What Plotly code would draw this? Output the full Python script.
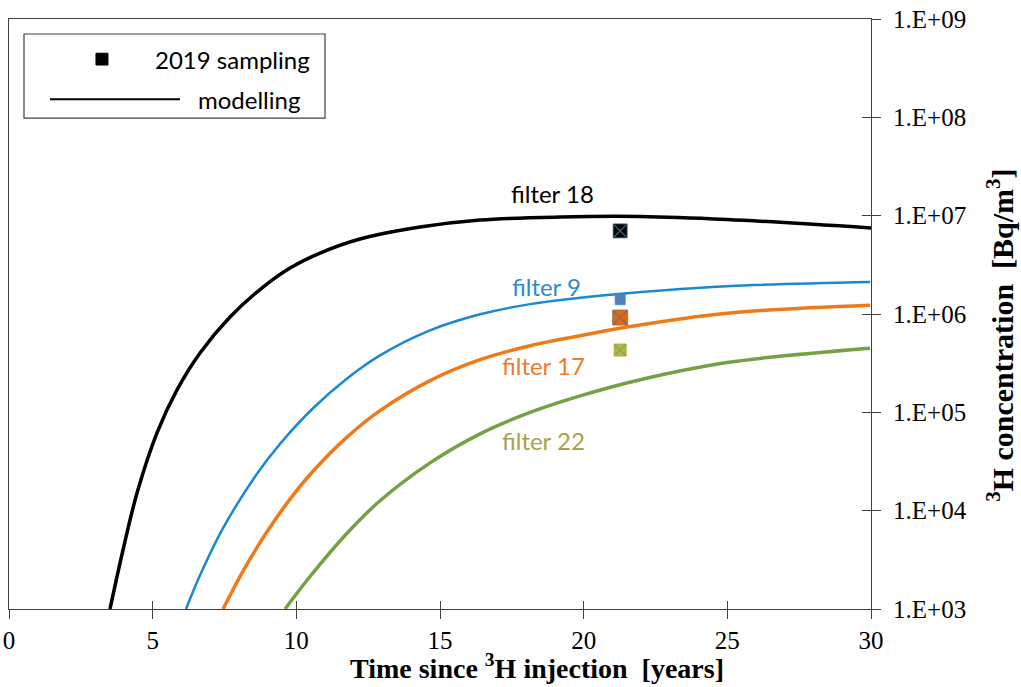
import plotly.graph_objects as go

# ---------------- data ----------------
t_f18 = [3.515, 3.968, 4.455, 5.151, 5.848, 6.648, 7.692, 8.841, 9.781, 10.825, 12.217, 14.306,
         16.394, 19.178, 21.963, 24.991, 30.0]
c_f18 = [1.0e3, 3.98e3, 1.51e4, 6.17e4, 1.69e5, 4.01e5, 9.31e5, 1.88e6, 2.94e6, 4.17e6, 5.79e6,
         7.67e6, 9.04e6, 9.69e6, 9.80e6, 9.14e6, 7.50e6]

t_f9 = [6.161, 6.648, 7.449, 8.632, 9.433, 10.581, 11.765, 12.913, 14.654, 16.394, 18.134,
        19.875, 21.511, 24.992, 29.969]
c_f9 = [1.0e3, 2.20e3, 6.64e3, 2.37e4, 4.78e4, 1.10e5, 2.21e5, 3.80e5, 6.82e5, 9.93e5, 1.26e6,
        1.46e6, 1.63e6, 1.92e6, 2.12e6]

t_f17 = [7.449, 8.145, 8.911, 9.781, 10.581, 11.765, 12.913, 14.654, 16.394, 18.134, 19.875,
         21.511, 24.992, 29.969]
c_f17 = [1.0e3, 2.43e3, 5.69e3, 1.31e4, 2.52e4, 5.60e4, 1.04e5, 2.10e5, 3.43e5, 4.76e5, 6.01e5,
         7.38e5, 1.02e6, 1.23e6]

t_f22 = [9.607, 10.477, 11.765, 12.913, 14.654, 16.394, 18.134, 19.875, 21.859, 24.992, 29.969]
c_f22 = [1.0e3, 2.14e3, 5.90e3, 1.26e4, 3.06e4, 6.04e4, 9.98e4, 1.47e5, 2.11e5, 3.21e5, 4.49e5]

sample_filters = ["filter 18", "filter 9", "filter 17", "filter 22"]
sample_t = [21.27, 21.27, 21.27, 21.27]
sample_c = [7.0e6, 1.4e6, 9.2e5, 4.3e5]

x_ticks = [0, 5, 10, 15, 20, 25, 30]
y_ticks = [1e3, 1e4, 1e5, 1e6, 1e7, 1e8, 1e9]
y_ticktext = ["1.E+03", "1.E+04", "1.E+05", "1.E+06", "1.E+07", "1.E+08", "1.E+09"]

# ---------------- styles ----------------
line_styles = {
    "filter 18": dict(color="#000000", width=3.5),
    "filter 9": dict(color="#1A8AD0", width=2.5),
    "filter 17": dict(color="#F07A1A", width=3.5),
    "filter 22": dict(color="#76A044", width=3.5),
}
marker_fill = ["#000000", "#4F7FBF", "#E2690C", "#8FCB4B"]
marker_size = [14, 10, 15, 12]
marker_x_col = ["#3A7080", "#4F7FBF", "#7F6868", "#C48A40"]

FONT_SERIF = "Liberation Serif, Times New Roman, serif"
FONT_SANS = "Lato, Carlito, Calibri, sans-serif"

fig = go.Figure()

for name, t, c in [("filter 18", t_f18, c_f18), ("filter 9", t_f9, c_f9),
                   ("filter 17", t_f17, c_f17), ("filter 22", t_f22, c_f22)]:
    fig.add_trace(go.Scatter(x=t, y=c, mode="lines", name=name,
                             line=dict(shape="spline", smoothing=1.0, simplify=False,
                                       **line_styles[name]),
                             showlegend=False, cliponaxis=True))

for i in range(len(sample_t)):
    fig.add_trace(go.Scatter(x=[sample_t[i]], y=[sample_c[i]], mode="markers",
                             marker=dict(symbol="square", size=marker_size[i], color=marker_fill[i],
                                         line=dict(width=0.8, color=marker_x_col[i])),
                             showlegend=False))
    fig.add_trace(go.Scatter(x=[sample_t[i]], y=[sample_c[i]], mode="markers",
                             marker=dict(symbol="x-thin", size=marker_size[i] - 2,
                                         line=dict(width=1.3, color=marker_x_col[i])),
                             showlegend=False))

# invisible trace for the overlay (inside-tick) axes
fig.add_trace(go.Scatter(x=[0], y=[1e3], xaxis="x2", yaxis="y2", mode="markers",
                         marker=dict(opacity=0), showlegend=False, hoverinfo="skip"))

axis_col = "#404040"
fig.update_layout(
    width=1021, height=687,
    margin=dict(l=9, r=150, t=19, b=78),
    paper_bgcolor="white", plot_bgcolor="white",
    showlegend=False,
    xaxis=dict(range=[0, 30], tickvals=x_ticks, ticks="outside", ticklen=9, tickwidth=1,
               tickcolor=axis_col, showline=True, linecolor=axis_col, linewidth=1.2,
               mirror=True, showgrid=False, zeroline=False, automargin=False,
               ticklabelstandoff=0,
               tickfont=dict(family=FONT_SERIF, size=25, color="#000000")),
    yaxis=dict(type="log", range=[3, 9], side="right", tickvals=y_ticks, ticktext=y_ticktext,
               ticks="outside", ticklen=9, tickwidth=1, tickcolor=axis_col,
               showline=True, linecolor=axis_col, linewidth=1.2, mirror=True,
               showgrid=False, zeroline=False, automargin=False, ticklabelstandoff=7,
               tickfont=dict(family=FONT_SERIF, size=25, color="#000000")),
    xaxis2=dict(range=[0, 30], overlaying="x", side="bottom", tickvals=x_ticks,
                ticks="inside", ticklen=8, tickwidth=1, tickcolor=axis_col, automargin=False,
                showticklabels=False, showline=False, showgrid=False, zeroline=False),
    yaxis2=dict(type="log", range=[3, 9], overlaying="y", side="right", tickvals=y_ticks,
                ticks="inside", ticklen=9, tickwidth=1, tickcolor=axis_col, automargin=False,
                showticklabels=False, showline=False, showgrid=False, zeroline=False),
)

# curve labels
label_specs = [("filter 18", 0.631, 0.705, "#000000"),
               ("filter 9", 0.623, 0.547, "#2E8BCB"),
               ("filter 17", 0.6195, 0.412, "#EE7A30"),
               ("filter 22", 0.6195, 0.285, "#A8A24E")]
for txt, xp, yp, col in label_specs:
    fig.add_annotation(text=txt, x=xp, y=yp, xref="paper", yref="paper", showarrow=False,
                       xanchor="center", yanchor="middle",
                       font=dict(family=FONT_SANS, size=24, color=col))

# axis titles
fig.add_annotation(text="<b>Time since <sup>3</sup>H injection&nbsp; [years]</b>",
                   x=0.6125, y=-0.098, xref="paper", yref="paper", showarrow=False,
                   xanchor="center", yanchor="middle",
                   font=dict(family=FONT_SERIF, size=28, color="#000000"))
fig.add_annotation(text="<b><sup>3</sup>H concentration&nbsp; [Bq/m<sup>3</sup>]</b>",
                   x=1.1497, y=0.463, xref="paper", yref="paper", showarrow=False,
                   textangle=-90, xanchor="center", yanchor="middle",
                   font=dict(family=FONT_SERIF, size=30, color="#000000"))

# legend box (manual)
fig.add_shape(type="rect", xref="paper", yref="paper", x0=0.0174, x1=0.3666, y0=0.832, y1=0.9746,
              line=dict(color=axis_col, width=1.2), fillcolor="white", layer="above")
fig.add_shape(type="rect", xref="paper", yref="paper", x0=0.1009, x1=0.1148, y0=0.922, y1=0.942,
              line=dict(color="#000000", width=1), fillcolor="#000000", layer="above")
fig.add_shape(type="line", xref="paper", yref="paper", x0=0.0476, x1=0.1984, y0=0.864, y1=0.864,
              line=dict(color="#000000", width=2.2), layer="above")
fig.add_annotation(text="2019 sampling", x=0.167, y=0.932, xref="paper", yref="paper",
                   showarrow=False, xanchor="left", yanchor="middle",
                   font=dict(family=FONT_SANS, size=24, color="#000000"))
fig.add_annotation(text="modelling", x=0.217, y=0.864, xref="paper", yref="paper",
                   showarrow=False, xanchor="left", yanchor="middle",
                   font=dict(family=FONT_SANS, size=24, color="#000000"))

fig.write_html("out.html")
